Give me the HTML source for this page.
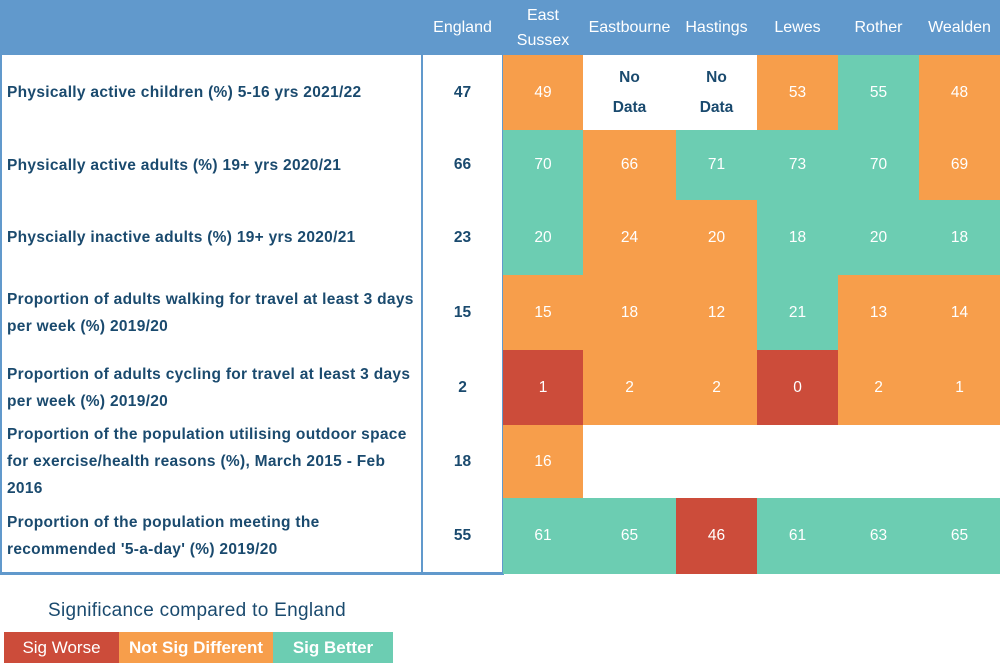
<!DOCTYPE html>
<html><head><meta charset="utf-8"><style>
body{margin:0;width:1000px;height:664px;background:#fff;font-family:"Liberation Sans","DejaVu Sans",sans-serif;position:relative;overflow:hidden}
.a{position:absolute;box-sizing:border-box}
.hdr{background:#6199cc}
.hc{color:#fff;font-size:16px;text-align:center;display:flex;align-items:center;justify-content:center;line-height:25px}
.lab{color:#1a4a6e;font-weight:bold;font-size:15.5px;display:flex;align-items:center;padding-left:5px;line-height:27px;letter-spacing:0.3px}
.cell{display:flex;align-items:center;justify-content:center;font-size:15.5px;color:#fff;text-align:center;line-height:30px}
.eng{color:#1a4a6e;font-weight:bold}
.nd{color:#1a4a6e;font-weight:bold}
</style></head><body>
<div class="a hdr" style="left:0;top:0;width:1000px;height:55px"></div>
<div id="t"></div>
<div class="a" style="left:0;top:600px;width:394px;text-align:center;color:#1a4a6e;font-size:19px;letter-spacing:0.3px">Significance compared to England</div>
<div class="a cell" style="left:4px;top:632px;width:115px;height:31px;background:#cc4c3a;font-size:17px">Sig Worse</div>
<div class="a cell" style="left:119px;top:632px;width:154px;height:31px;background:#f79e4b;font-size:17px;font-weight:bold">Not Sig Different</div>
<div class="a cell" style="left:273px;top:632px;width:120px;height:31px;background:#6ccdb2;font-size:17px;font-weight:bold">Sig Better</div>
<script>
const areas=["England","East<br>Sussex","Eastbourne","Hastings","Lewes","Rother","Wealden"];
const indicators=["Physically active children (%) 5-16 yrs 2021/22","Physically active adults (%) 19+ yrs 2020/21","Physcially inactive adults (%) 19+ yrs 2020/21","Proportion of adults walking for travel at least 3 days per week (%) 2019/20","Proportion of adults cycling for travel at least 3 days per week (%) 2019/20","Proportion of the population utilising outdoor space for exercise/health reasons (%), March 2015 - Feb 2016","Proportion of the population meeting the recommended '5-a-day' (%) 2019/20"];
const englandVals=[47,66,23,15,2,18,55];
const values=[[49,"ND","ND",53,55,48],[70,66,71,73,70,69],[20,24,20,18,20,18],[15,18,12,21,13,14],[1,2,2,0,2,1],[16,null,null,null,null,null],[61,65,46,61,63,65]];
const sig=[["o","","","o","g","o"],["g","o","g","g","g","o"],["g","o","o","g","g","g"],["o","o","o","g","o","o"],["r","o","o","r","o","o"],["o","","","","",""],["g","g","r","g","g","g"]];
const colX=[422,503,583,676,757,838,919,1000];
const rowY=[55,130,200,275,350,425,498,574];
const col={r:"#cc4c3a",o:"#f79e4b",g:"#6ccdb2","":"#fff"};
const t=document.getElementById('t');
function mk(cls,x,y,w,h,html){const d=document.createElement('div');d.className='a '+cls;d.style.cssText=`left:${x}px;top:${y}px;width:${w}px;height:${h}px`;d.innerHTML=html;t.appendChild(d);return d;}
areas.forEach((a,i)=>{const d=mk('hc',colX[i],0,colX[i+1]-colX[i],55,a);

});
// borders
let b=mk('',0,55,423,520,'');b.style.border='2px solid #6199cc';b.style.borderTop='none';


b=mk('',421,55,83,520,'');b.style.border='2px solid #6199cc';b.style.borderTop='none';


b=mk('',0,572,1000,2,'');b.style.background='#6199cc';


indicators.forEach((lab,r)=>{const y=rowY[r],h=rowY[r+1]-y;
let d=mk('lab',2,y,418,h,lab);


d=mk('cell eng',423,y,79,h,englandVals[r]);


values[r].forEach((v,c)=>{const x=colX[c+1],w=colX[c+2]-x;
const e=mk('cell'+(v==="ND"?' nd':''),x,y,w,h,v===null?'':(v==="ND"?'No<br>Data':v));
e.style.background=col[sig[r][c]];

});});
</script>
</body></html>
